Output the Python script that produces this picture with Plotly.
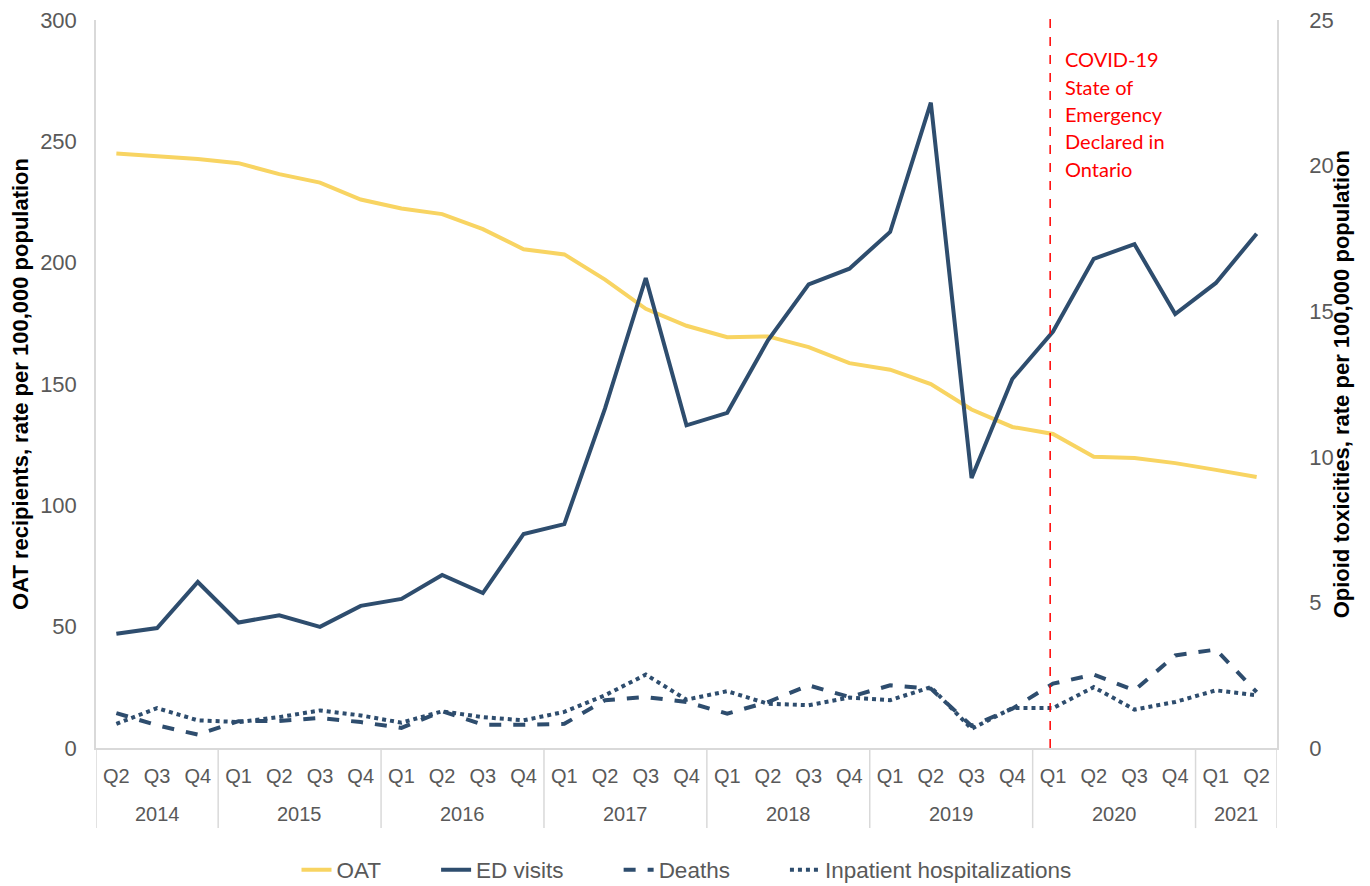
import plotly.graph_objects as go
from plotly.subplots import make_subplots

years = ["2014"] * 3 + ["2015"] * 4 + ["2016"] * 4 + ["2017"] * 4 + ["2018"] * 4 + ["2019"] * 4 + ["2020"] * 4 + ["2021"] * 2
quarters = ["Q2", "Q3", "Q4",
            "Q1", "Q2", "Q3", "Q4",
            "Q1", "Q2", "Q3", "Q4",
            "Q1", "Q2", "Q3", "Q4",
            "Q1", "Q2", "Q3", "Q4",
            "Q1", "Q2", "Q3", "Q4",
            "Q1", "Q2", "Q3", "Q4",
            "Q1", "Q2"]

oat = [245.0, 244.0, 242.7, 241.0, 236.5, 233.0, 226.0, 222.3, 220.0, 213.8, 205.5, 203.4, 193.0, 181.0,
       174.0, 169.3, 169.6, 165.2, 158.6, 155.9, 150.0, 139.5, 132.3, 129.4, 120.0, 119.5, 117.4, 114.6, 111.7]
ed_visits = [3.92, 4.12, 5.70, 4.31, 4.56, 4.16, 4.88, 5.12, 5.94, 5.32, 7.35, 7.69, 11.66, 16.14,
             11.08, 11.51, 14.0, 15.92, 16.46, 17.72, 22.16, 9.27, 12.67, 14.3, 16.8, 17.3, 14.9, 15.97, 17.66]
deaths = [1.2, 0.78, 0.46, 0.92, 0.93, 1.03, 0.89, 0.69, 1.26, 0.80, 0.80, 0.83, 1.64, 1.75,
          1.58, 1.18, 1.58, 2.15, 1.75, 2.15, 2.04, 0.76, 1.35, 2.21, 2.52, 1.98, 3.18, 3.38, 1.92]
inpatient = [0.83, 1.37, 0.95, 0.89, 1.06, 1.29, 1.12, 0.87, 1.26, 1.06, 0.95, 1.24, 1.81, 2.52,
             1.66, 1.95, 1.52, 1.47, 1.73, 1.64, 2.09, 0.66, 1.37, 1.37, 2.09, 1.32, 1.58, 1.98, 1.81]

covid_note = ["COVID-19", "State of", "Emergency", "Declared in", "Ontario"]

yellow = "#F8D462"
navy = "#2E4D6E"
grey_text = "#595959"
axis_grey = "#D9D9D9"
font_family = "Liberation Sans, Arial"
pad = "\u00a0" * 8

# unique category keys, labelled with the quarter only; years go underneath
cats = [f"{y} {q}" for y, q in zip(years, quarters)]

fig = make_subplots(specs=[[{"secondary_y": True}]])
fig.add_trace(go.Scatter(x=cats, y=oat, mode="lines", name="OAT" + pad,
                         line=dict(color=yellow, width=4)), secondary_y=False)
fig.add_trace(go.Scatter(x=cats, y=ed_visits, mode="lines", name="ED visits" + pad,
                         line=dict(color=navy, width=4)), secondary_y=True)
fig.add_trace(go.Scatter(x=cats, y=deaths, mode="lines", name="Deaths" + pad,
                         line=dict(color=navy, width=4, dash="dash")), secondary_y=True)
fig.add_trace(go.Scatter(x=cats, y=inpatient, mode="lines", name="Inpatient hospitalizations",
                         line=dict(color=navy, width=4, dash="dot")), secondary_y=True)

# year labels + group dividers
groups = []
for i, y in enumerate(years):
    if not groups or groups[-1][0] != y:
        groups.append([y, i, i])
    else:
        groups[-1][2] = i
for y, start, end in groups:
    fig.add_annotation(xref="x", yref="paper", x=(start + end) / 2, y=-0.0907, text=y,
                       showarrow=False, yanchor="middle",
                       font=dict(family=font_family, size=20, color=grey_text))
    fig.add_shape(type="line", xref="x", yref="paper", x0=start - 0.5, x1=start - 0.5,
                  y0=0, y1=-0.11, line=dict(color=axis_grey, width=1.5))
fig.add_shape(type="line", xref="x", yref="paper", x0=len(cats) - 0.5, x1=len(cats) - 0.5,
              y0=0, y1=-0.11, line=dict(color=axis_grey, width=1.5))

# covid marker line at Q1 2020
fig.add_shape(type="line", xref="x", yref="paper", x0=22.93, x1=22.93, y0=0, y1=1.004,
              line=dict(color="#FF0000", width=1.5, dash="dash"))
for k, line in enumerate(covid_note):
    fig.add_annotation(xref="paper", yref="paper", x=0.819, y=(748 - 59 - 27.5 * k) / 728,
                       xanchor="left", yanchor="middle", showarrow=False, text=line,
                       font=dict(family="Lato", size=20, color="#FF0000"))

# right axis title as an annotation so it can sit a little closer to the tick labels
fig.add_annotation(xref="paper", yref="paper", x=1.0545, y=0.5, textangle=-90, showarrow=False,
                   xanchor="center", yanchor="middle",
                   text="<b>Opioid toxicities, rate per 100,000 population</b>",
                   font=dict(family=font_family, size=22, color="black"))

# page body adds an 8px offset, so the figure is sized to the remaining window
fig.update_layout(
    width=1362, height=878,
    margin=dict(l=88, r=93, t=12, b=138, autoexpand=False),
    plot_bgcolor="white", paper_bgcolor="white",
    font=dict(family=font_family, size=20, color=grey_text),
    legend=dict(orientation="h", x=0.5, xanchor="center", y=-0.1676, yanchor="middle",
                font=dict(size=22.5, color=grey_text)),
    showlegend=True,
)
fig.update_xaxes(type="category", tickvals=cats, ticktext=quarters, showgrid=False, automargin=False,
                 domain=[0, 1], showline=True, linecolor=axis_grey, linewidth=2, ticks="",
                 ticklabelstandoff=9, range=[-0.5, len(cats) - 0.5],
                 tickfont=dict(size=20, color=grey_text))
fig.update_yaxes(range=[0, 300], dtick=50, showgrid=False, showline=True, linecolor=axis_grey,
                 linewidth=1.5, zeroline=False, ticklabelstandoff=13, automargin=False,
                 ticklabeloverflow="allow", tickfont=dict(size=22, color=grey_text),
                 title=dict(text="<b>OAT recipients, rate per 100,000 population</b>",
                            font=dict(size=22, color="black"), standoff=14),
                 secondary_y=False)
fig.update_yaxes(range=[0, 25], dtick=5, showgrid=False, showline=True, linecolor=axis_grey,
                 linewidth=1.5, zeroline=False, ticklabelstandoff=26, automargin=False,
                 ticklabeloverflow="allow", tickfont=dict(size=22, color=grey_text),
                 secondary_y=True)

fig.write_html("out.html")
